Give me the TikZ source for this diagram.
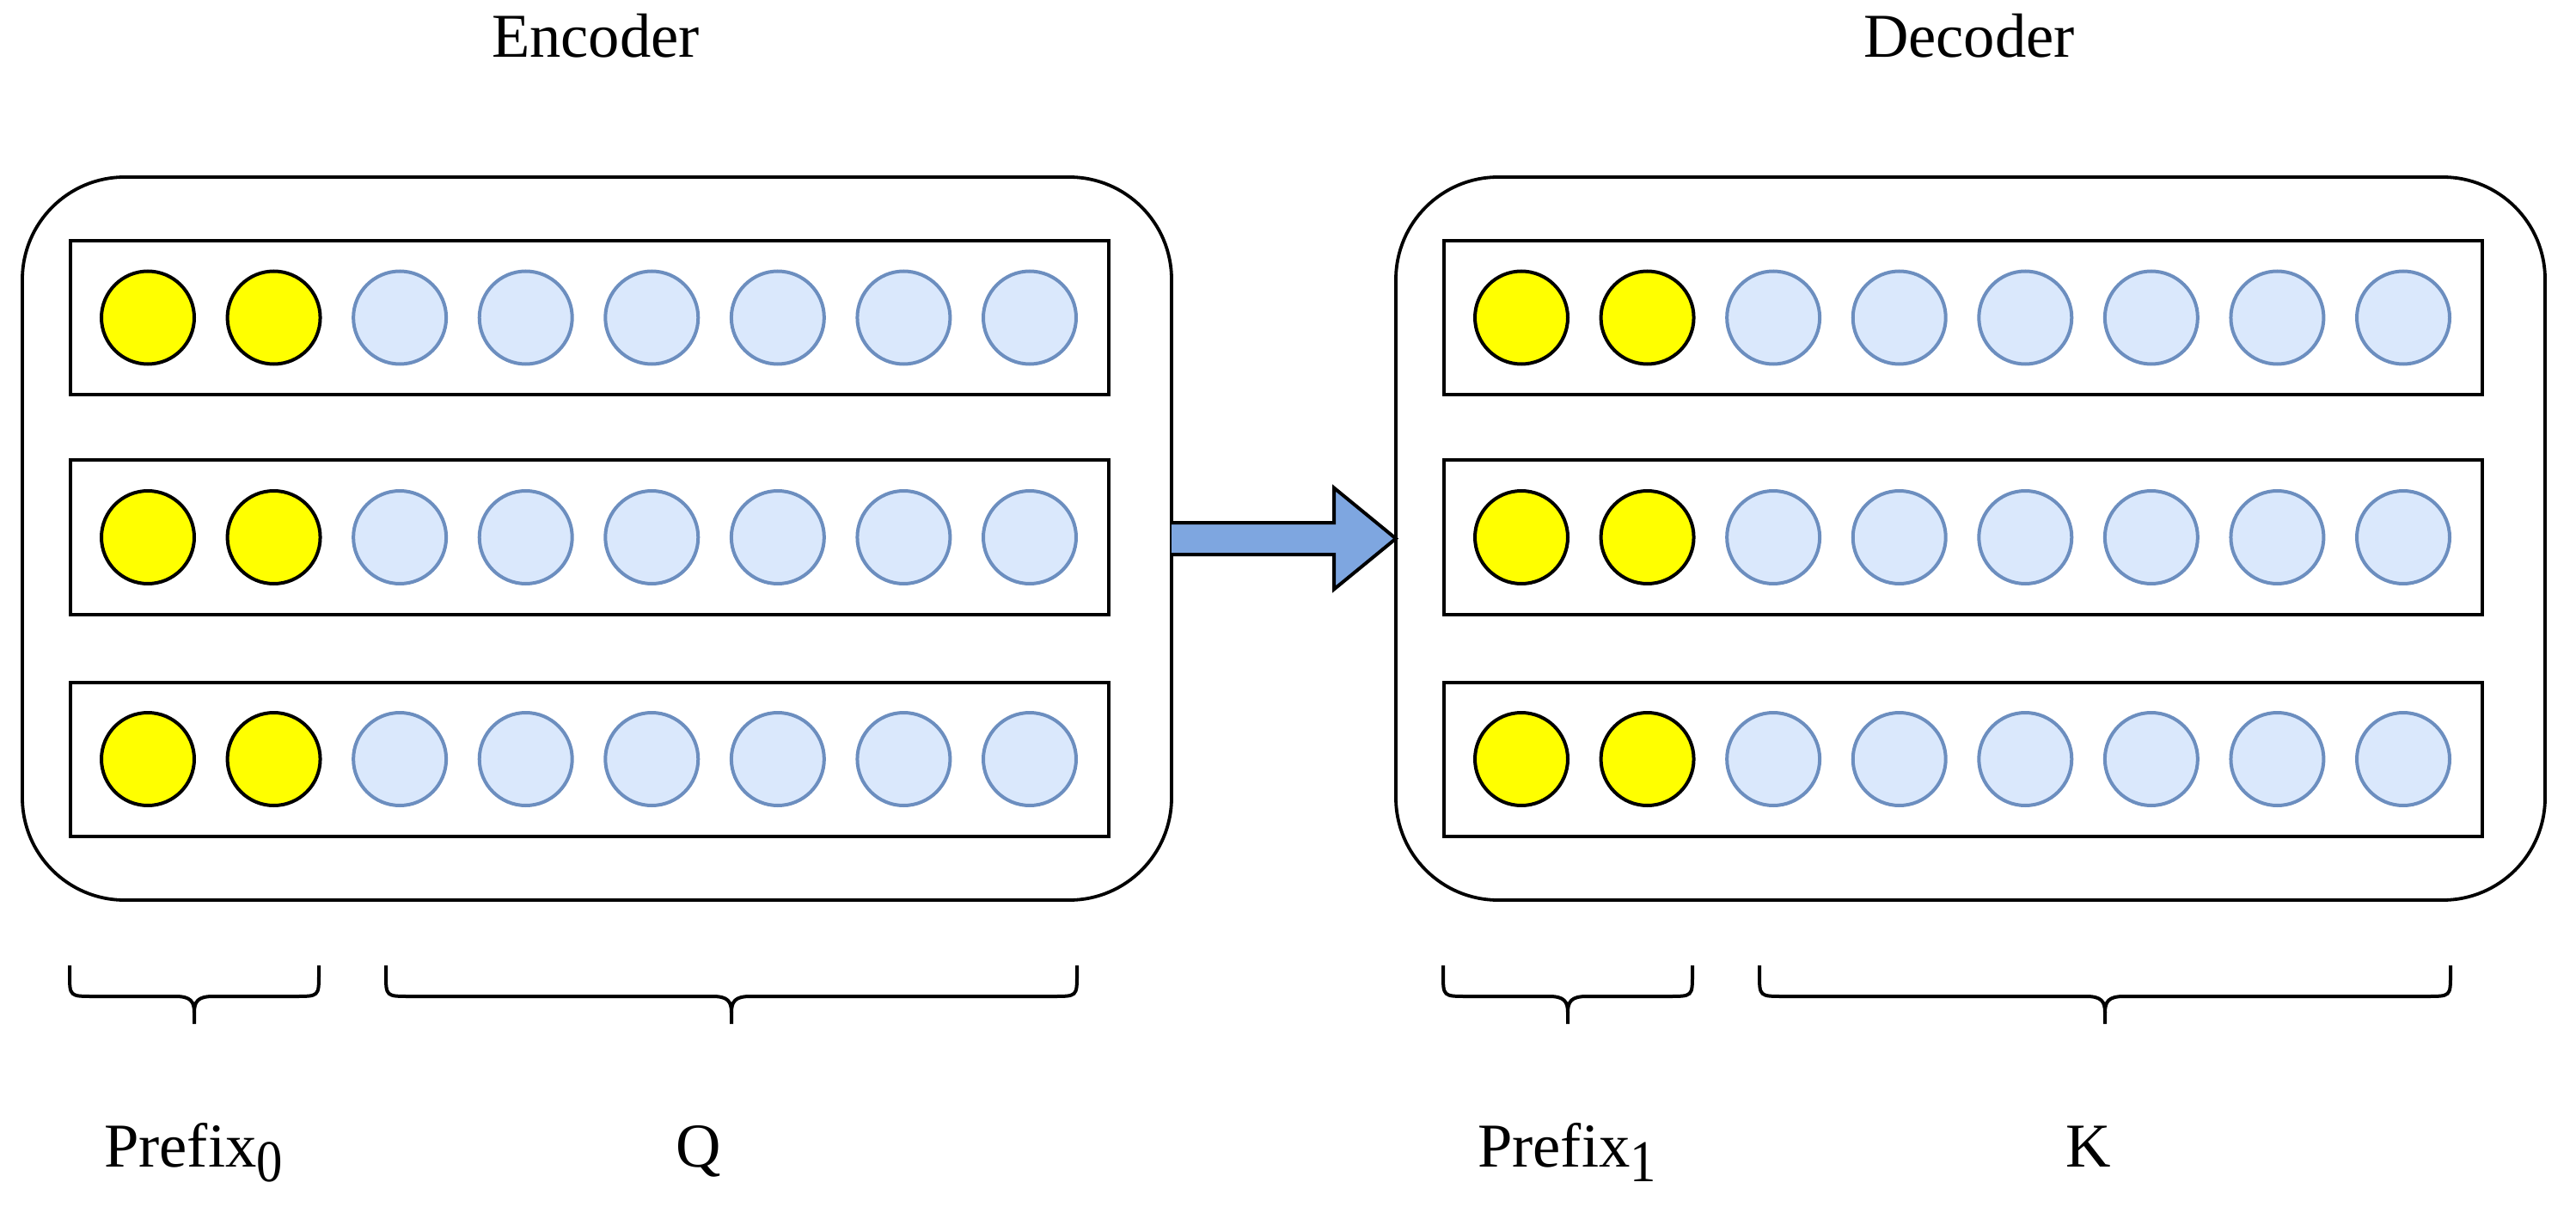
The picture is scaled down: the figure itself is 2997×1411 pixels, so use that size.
\documentclass[tikz,border=0pt]{standalone}
\usepackage{graphicx}
\usepackage{fontspec}
\setmainfont{Liberation Serif}
\usetikzlibrary{calc}
\definecolor{tokfill}{HTML}{DAE8FC}
\definecolor{tokline}{HTML}{6C8EBF}
\definecolor{arrowfill}{HTML}{7EA6E0}
\definecolor{pfxfill}{HTML}{FFFF00}
\newcommand{\mysub}[1]{\raisebox{-8.5pt}{\scalebox{0.88}[1]{\fontsize{34.5pt}{35pt}\selectfont #1}}}
\begin{document}
\begin{tikzpicture}[x=0.5pt,y=-0.5pt,
  outerbox/.style={draw=black, line width=1.9pt, rounded corners=59.5pt, minimum width=668.5pt, minimum height=420.5pt, inner sep=0pt, outer sep=0pt},
  rowbox/.style={draw=black, line width=2pt, minimum width=604pt, minimum height=89.5pt, inner sep=0pt, outer sep=0pt},
  pfx/.style={circle, draw=black, fill=pfxfill, line width=2pt, minimum size=54pt, inner sep=0pt},
  tok/.style={circle, draw=tokline, fill=tokfill, line width=2pt, minimum size=54pt, inner sep=0pt},
  lbl/.style={font=\fontsize{36.3pt}{40pt}\selectfont, anchor=base, inner sep=0pt},
  bracestyle/.style={draw=black, line width=2pt},
  arrowstyle/.style={draw=black, line width=2pt, fill=arrowfill, line join=miter}]
\useasboundingbox (0,0) rectangle (2997,1411);

% outer boxes
\node[outerbox] (enc) at (694.5,626.5) {};
\node[outerbox] (dec) at (2292.5,626.5) {};

% rows and tokens
\foreach \i/\y in {1/369.5, 2/625, 3/883} {
  \node[rowbox] (er\i) at (686,\y) {};
  \node[rowbox] (dr\i) at (2284,\y) {};
  \foreach \j in {1,...,8} {
    \pgfmathsetmacro{\xx}{172+146.57*(\j-1)}
    \pgfmathsetmacro{\xd}{\xx+1598}
    \ifnum\j<3
      \node[pfx] (e\i-\j) at (\xx,\y) {};
      \node[pfx] (d\i-\j) at (\xd,\y) {};
    \else
      \node[tok] (e\i-\j) at (\xx,\y) {};
      \node[tok] (d\i-\j) at (\xd,\y) {};
    \fi
  }
}

% arrow from encoder to decoder
\draw[arrowstyle] ($(enc.east)+(0,-18.5)$) -- ($(dec.west)+(-72,-18.5)$) -- ($(dec.west)+(-72,-59)$) -- (dec.west) -- ($(dec.west)+(-72,59)$) -- ($(dec.west)+(-72,18.5)$) -- ($(enc.east)+(0,18.5)$);

% braces
\foreach \a/\b [count=\n] in {81/371,449/1253,1679/1969,2047/2851} {
  \pgfmathsetmacro{\cx}{(\a+\b)/2}
  \coordinate (bl\n) at (\a,1123);
  \coordinate (br\n) at (\b,1123);
  \coordinate (bt\n) at (\cx,1191);
  \draw[bracestyle] (bl\n) -- (\a,1133) .. controls (\a,1159) .. (\a+28,1159) -- (\cx-22,1159) .. controls (\cx-4,1159) and (\cx,1165) .. (\cx,1178) -- (bt\n);
  \draw[bracestyle] (\cx,1178) .. controls (\cx,1165) and (\cx+4,1159) .. (\cx+22,1159) -- (\b-28,1159) .. controls (\b,1159) .. (\b,1133) -- (br\n);
}

% labels
\node[lbl] (enclbl) at (693,67) {Encoder};
\node[lbl] (declbl) at (2291,67) {Decoder};
\node[lbl] (p0) at (225,1357) {Prefix\mysub{0}};
\node[lbl] (q) at (813,1357) {Q};
\node[lbl] (p1) at (1823,1357) {Prefix\mysub{1}};
\node[lbl] (k) at (2430,1357) {K};
\end{tikzpicture}
\end{document}
